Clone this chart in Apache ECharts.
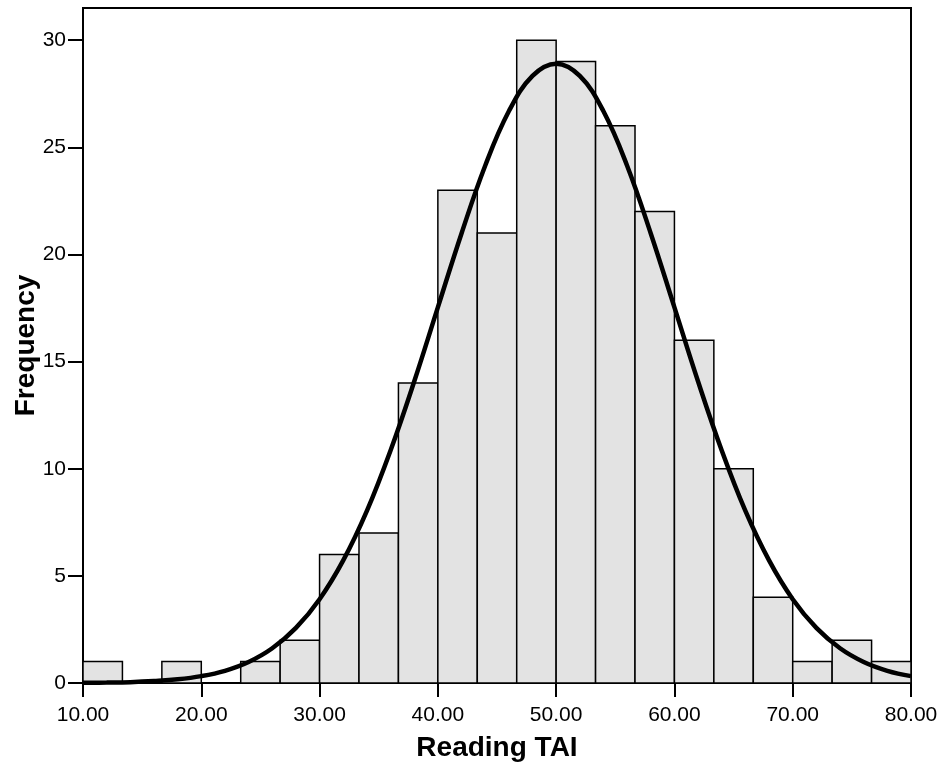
<!DOCTYPE html>
<html><head><meta charset="utf-8">
<script src="https://cdn.jsdelivr.net/npm/echarts@6/dist/echarts.min.js"></script>
<style>html,body{margin:0;padding:0;background:#fff}#c{width:945px;height:767px}</style>
</head><body><div id="c"></div>
<script>
// Histogram bins (lower/upper edges) and frequencies
const binEdges = [10, 13.333, 16.667, 20, 23.333, 26.667, 30, 33.333, 36.667, 40, 43.333, 46.667, 50, 53.333, 56.667, 60, 63.333, 66.667, 70, 73.333, 76.667, 80];
const counts = [1, 0, 1, 0, 1, 2, 6, 7, 14, 23, 21, 30, 29, 26, 22, 16, 10, 4, 1, 2, 1];
// Fitted normal curve
const curveX = [10, 12, 14, 16, 18, 20, 22, 24, 26, 28, 30, 32, 34, 36, 38, 40, 42, 44, 46, 48, 50, 52, 54, 56, 58, 60, 62, 64, 66, 68, 70, 72, 74, 76, 78, 80];
const curveY = [0.01, 0.02, 0.04, 0.09, 0.17, 0.32, 0.57, 0.98, 1.62, 2.57, 3.91, 5.72, 8.03, 10.85, 14.07, 17.53, 20.98, 24.14, 26.68, 28.33, 28.9, 28.33, 26.68, 24.14, 20.98, 17.53, 14.07, 10.85, 8.03, 5.72, 3.91, 2.57, 1.62, 0.98, 0.57, 0.32];
const xTicks = [10, 20, 30, 40, 50, 60, 70, 80];
const yTicks = [0, 5, 10, 15, 20, 25, 30];

const barData = [];
counts.forEach((c, i) => { if (c > 0) barData.push([binEdges[i], binEdges[i + 1], c]); });
const lineData = curveX.map((x, i) => [x, curveY[i]]);

const chart = echarts.init(document.getElementById('c'), null, {renderer: 'canvas'});
const FONT = 'Liberation Sans, Arial, sans-serif';
chart.setOption({
  animation: false,
  backgroundColor: '#fff',
  grid: {left: 83, right: 34, top: 8, bottom: 84, containLabel: false, outerBoundsMode: 'none',
    show: true, borderColor: '#000', borderWidth: 2, backgroundColor: 'transparent'},
  xAxis: {
    type: 'value', min: 10, max: 80, interval: 10,
    name: 'Reading TAI', nameLocation: 'middle', nameGap: 51, nameMoveOverlap: false,
    nameTextStyle: {fontFamily: FONT, fontWeight: 'bold', fontSize: 28, color: '#000'},
    axisLine: {show: true, lineStyle: {color: '#000', width: 2}},
    axisTick: {show: true, length: 14, lineStyle: {color: '#000', width: 2}, customValues: xTicks},
    axisLabel: {fontFamily: FONT, fontSize: 21, color: '#000', margin: 22, customValues: xTicks,
      formatter: v => v.toFixed(2)},
    splitLine: {show: false}
  },
  yAxis: {
    type: 'value', min: 0, max: 31.5, interval: 5,
    name: 'Frequency', nameLocation: 'middle', nameGap: 43, nameMoveOverlap: false,
    nameTextStyle: {fontFamily: FONT, fontWeight: 'bold', fontSize: 28, color: '#000'},
    axisLine: {show: true, lineStyle: {color: '#000', width: 2}},
    axisTick: {show: true, length: 15, lineStyle: {color: '#000', width: 2}, customValues: yTicks},
    axisLabel: {fontFamily: FONT, fontSize: 21, color: '#000', margin: 17, customValues: yTicks,
      formatter: v => (yTicks.indexOf(v) >= 0 ? String(v) : '')},
    splitLine: {show: false}
  },
  series: [
    {
      type: 'custom',
      data: barData,
      encode: {x: [0, 1], y: 2},
      renderItem: function (params, api) {
        const p0 = api.coord([api.value(0), api.value(2)]);
        const p1 = api.coord([api.value(1), 0]);
        return {
          type: 'rect',
          shape: {x: p0[0], y: p0[1], width: p1[0] - p0[0], height: p1[1] - p0[1]},
          style: {fill: '#e3e3e3', stroke: '#000', lineWidth: 1.5}
        };
      },
      z: 2
    },
    {
      type: 'line',
      data: lineData,
      smooth: 0.4,
      showSymbol: false,
      symbol: 'none',
      lineStyle: {color: '#000', width: 4.5},
      z: 3
    }
  ]
});
</script>
</body></html>
